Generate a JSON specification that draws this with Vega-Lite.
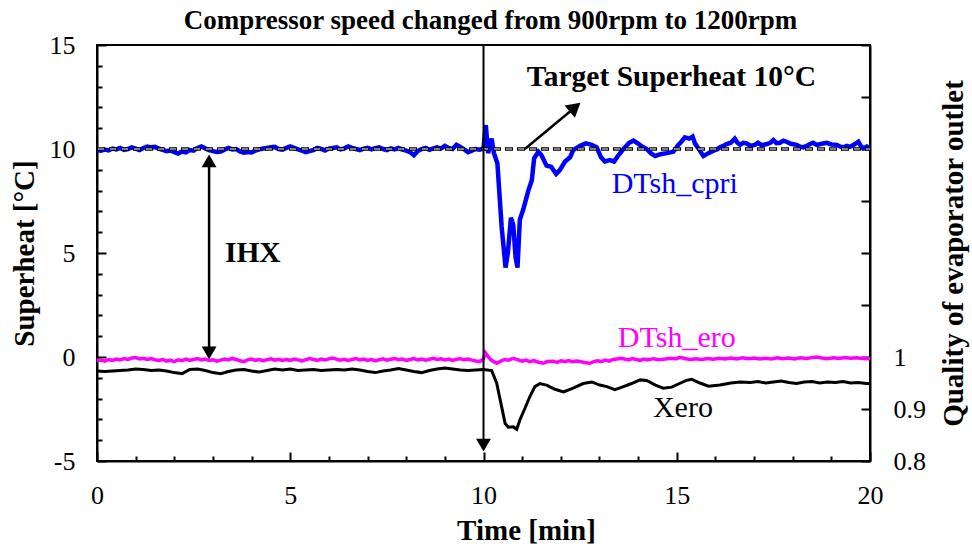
{
"$schema":"https://vega.github.io/schema/vega-lite/v6.json",
"width":773,"height":416,
"autosize":"none",
"padding":{"left":97,"top":45,"right":102,"bottom":86},
"title":{"text":"Compressor speed changed from 900rpm to 1200rpm","font":"Liberation Serif","fontSize":27,"fontWeight":"bold","color":"black","anchor":"middle","frame":"group","offset":-3,"dx":7},
"datasets":{
"cpri":[
{"t":0.0,"v":9.95},{"t":0.1,"v":9.92},{"t":0.2,"v":9.97},{"t":0.3,"v":9.93},{"t":0.4,"v":10.02},{"t":0.5,"v":9.98},{"t":0.6,"v":10.05},{"t":0.7,"v":9.96},{"t":0.8,"v":10.0},{"t":0.9,"v":10.08},
{"t":1.0,"v":10.02},{"t":1.1,"v":9.95},{"t":1.2,"v":10.05},{"t":1.3,"v":10.12},{"t":1.4,"v":10.08},{"t":1.5,"v":10.1},{"t":1.6,"v":10.02},{"t":1.7,"v":9.96},{"t":1.8,"v":9.9},{"t":1.9,"v":9.93},
{"t":2.0,"v":9.85},{"t":2.1,"v":9.78},{"t":2.2,"v":9.88},{"t":2.3,"v":9.84},{"t":2.4,"v":9.95},{"t":2.5,"v":9.92},{"t":2.6,"v":10.05},{"t":2.7,"v":10.12},{"t":2.8,"v":10.03},{"t":2.9,"v":9.95},
{"t":3.0,"v":9.9},{"t":3.1,"v":9.86},{"t":3.2,"v":9.88},{"t":3.3,"v":9.97},{"t":3.4,"v":10.05},{"t":3.5,"v":9.98},{"t":3.6,"v":10.0},{"t":3.7,"v":9.88},{"t":3.8,"v":9.82},{"t":3.9,"v":9.85},
{"t":4.0,"v":9.83},{"t":4.1,"v":9.93},{"t":4.2,"v":9.98},{"t":4.3,"v":10.02},{"t":4.4,"v":10.05},{"t":4.5,"v":10.08},{"t":4.6,"v":10.1},{"t":4.7,"v":10.0},{"t":4.8,"v":9.97},{"t":4.9,"v":10.05},
{"t":5.0,"v":10.12},{"t":5.1,"v":10.05},{"t":5.2,"v":9.98},{"t":5.3,"v":9.92},{"t":5.4,"v":9.85},{"t":5.5,"v":9.9},{"t":5.6,"v":9.95},{"t":5.7,"v":10.05},{"t":5.8,"v":10.0},{"t":5.9,"v":9.93},
{"t":6.0,"v":10.02},{"t":6.1,"v":10.05},{"t":6.2,"v":10.08},{"t":6.3,"v":9.98},{"t":6.4,"v":10.03},{"t":6.5,"v":10.12},{"t":6.6,"v":10.05},{"t":6.7,"v":10.0},{"t":6.8,"v":9.95},{"t":6.9,"v":10.02},
{"t":7.0,"v":10.06},{"t":7.1,"v":9.98},{"t":7.2,"v":10.04},{"t":7.3,"v":10.08},{"t":7.4,"v":10.0},{"t":7.5,"v":9.95},{"t":7.6,"v":10.03},{"t":7.7,"v":9.98},{"t":7.8,"v":10.05},{"t":7.9,"v":9.97},
{"t":8.0,"v":9.92},{"t":8.1,"v":9.85},{"t":8.2,"v":9.7},{"t":8.3,"v":9.9},{"t":8.4,"v":10.0},{"t":8.5,"v":10.05},{"t":8.6,"v":9.96},{"t":8.7,"v":10.03},{"t":8.8,"v":10.08},{"t":8.9,"v":10.02},
{"t":9.0,"v":10.15},{"t":9.1,"v":10.05},{"t":9.2,"v":10.0},{"t":9.3,"v":10.2},{"t":9.4,"v":10.1},{"t":9.5,"v":9.98},{"t":9.6,"v":9.85},{"t":9.7,"v":9.92},{"t":9.8,"v":10.0},{"t":9.9,"v":9.97},
{"t":10.0,"v":10.02},{"t":10.06,"v":11.15},{"t":10.12,"v":9.8},{"t":10.21,"v":10.5},{"t":10.27,"v":9.8},{"t":10.36,"v":9.3},{"t":10.47,"v":6.25},{"t":10.57,"v":4.3},{"t":10.63,"v":5.0},{"t":10.71,"v":6.7},
{"t":10.77,"v":6.35},{"t":10.83,"v":4.8},{"t":10.88,"v":4.3},{"t":10.94,"v":6.6},{"t":11.03,"v":7.1},{"t":11.16,"v":8.0},{"t":11.25,"v":8.5},{"t":11.31,"v":9.55},{"t":11.42,"v":9.87},{"t":11.5,"v":9.7},
{"t":11.63,"v":9.2},{"t":11.75,"v":9.15},{"t":11.88,"v":8.8},{"t":11.98,"v":9.0},{"t":12.11,"v":9.4},{"t":12.24,"v":9.6},{"t":12.32,"v":9.95},{"t":12.5,"v":10.15},{"t":12.65,"v":10.27},{"t":12.8,"v":10.2},
{"t":12.93,"v":10.08},{"t":13.04,"v":9.6},{"t":13.14,"v":9.4},{"t":13.27,"v":9.47},{"t":13.38,"v":9.4},{"t":13.49,"v":9.7},{"t":13.62,"v":10.0},{"t":13.77,"v":10.3},{"t":13.88,"v":10.4},{"t":13.99,"v":10.27},
{"t":14.09,"v":10.14},{"t":14.22,"v":10.0},{"t":14.33,"v":9.8},{"t":14.44,"v":9.66},{"t":14.52,"v":9.72},{"t":14.61,"v":9.76},{"t":14.74,"v":9.8},{"t":14.91,"v":9.87},{"t":15.04,"v":10.2},{"t":15.12,"v":10.35},
{"t":15.21,"v":10.56},{"t":15.32,"v":10.5},{"t":15.41,"v":10.6},{"t":15.47,"v":10.27},{"t":15.6,"v":9.92},{"t":15.69,"v":9.66},{"t":15.82,"v":9.8},{"t":15.95,"v":9.92},{"t":16.04,"v":9.98},{"t":16.12,"v":10.08},
{"t":16.21,"v":10.15},{"t":16.29,"v":10.24},{"t":16.4,"v":10.3},{"t":16.5,"v":10.5},{"t":16.57,"v":10.3},{"t":16.64,"v":10.2},{"t":16.72,"v":10.3},{"t":16.81,"v":10.27},{"t":16.9,"v":10.15},{"t":17.02,"v":10.2},
{"t":17.1,"v":10.3},{"t":17.2,"v":10.18},{"t":17.33,"v":10.24},{"t":17.42,"v":10.3},{"t":17.5,"v":10.43},{"t":17.58,"v":10.28},{"t":17.67,"v":10.3},{"t":17.76,"v":10.4},{"t":17.84,"v":10.35},{"t":17.95,"v":10.25},
{"t":18.1,"v":10.2},{"t":18.18,"v":10.12},{"t":18.27,"v":10.08},{"t":18.36,"v":10.15},{"t":18.45,"v":10.24},{"t":18.53,"v":10.3},{"t":18.62,"v":10.2},{"t":18.75,"v":10.25},{"t":18.88,"v":10.3},{"t":19.0,"v":10.22},
{"t":19.14,"v":10.2},{"t":19.22,"v":10.12},{"t":19.31,"v":10.08},{"t":19.4,"v":10.15},{"t":19.48,"v":10.1},{"t":19.58,"v":10.2},{"t":19.7,"v":10.35},{"t":19.76,"v":10.15},{"t":19.83,"v":10.03},{"t":19.92,"v":10.12},{"t":20.0,"v":10.05}
],
"ero":[
{"t":0.0,"v":-0.18},{"t":0.1,"v":-0.15},{"t":0.2,"v":-0.2},{"t":0.3,"v":-0.12},{"t":0.4,"v":-0.16},{"t":0.5,"v":-0.1},{"t":0.6,"v":-0.14},{"t":0.7,"v":-0.08},{"t":0.8,"v":-0.12},{"t":0.9,"v":-0.05},
{"t":1.0,"v":-0.03},{"t":1.1,"v":-0.09},{"t":1.2,"v":-0.06},{"t":1.3,"v":-0.12},{"t":1.4,"v":-0.08},{"t":1.5,"v":-0.13},{"t":1.6,"v":-0.17},{"t":1.7,"v":-0.12},{"t":1.8,"v":-0.2},{"t":1.9,"v":-0.15},
{"t":2.0,"v":-0.22},{"t":2.1,"v":-0.14},{"t":2.2,"v":-0.18},{"t":2.3,"v":-0.1},{"t":2.4,"v":-0.16},{"t":2.5,"v":-0.12},{"t":2.6,"v":-0.08},{"t":2.7,"v":-0.14},{"t":2.8,"v":-0.1},{"t":2.9,"v":-0.17},
{"t":3.0,"v":-0.13},{"t":3.1,"v":-0.2},{"t":3.2,"v":-0.15},{"t":3.3,"v":-0.1},{"t":3.4,"v":-0.14},{"t":3.5,"v":-0.07},{"t":3.6,"v":-0.12},{"t":3.7,"v":-0.18},{"t":3.8,"v":-0.22},{"t":3.9,"v":-0.14},
{"t":4.0,"v":-0.1},{"t":4.1,"v":-0.16},{"t":4.2,"v":-0.12},{"t":4.3,"v":-0.18},{"t":4.4,"v":-0.13},{"t":4.5,"v":-0.09},{"t":4.6,"v":-0.15},{"t":4.7,"v":-0.11},{"t":4.8,"v":-0.17},{"t":4.9,"v":-0.12},
{"t":5.0,"v":-0.16},{"t":5.1,"v":-0.1},{"t":5.2,"v":-0.14},{"t":5.3,"v":-0.19},{"t":5.4,"v":-0.13},{"t":5.5,"v":-0.08},{"t":5.6,"v":-0.12},{"t":5.7,"v":-0.16},{"t":5.8,"v":-0.1},{"t":5.9,"v":-0.14},
{"t":6.0,"v":-0.09},{"t":6.1,"v":-0.05},{"t":6.2,"v":-0.1},{"t":6.3,"v":-0.15},{"t":6.4,"v":-0.11},{"t":6.5,"v":-0.17},{"t":6.6,"v":-0.12},{"t":6.7,"v":-0.08},{"t":6.8,"v":-0.14},{"t":6.9,"v":-0.1},
{"t":7.0,"v":-0.16},{"t":7.1,"v":-0.12},{"t":7.2,"v":-0.18},{"t":7.3,"v":-0.13},{"t":7.4,"v":-0.09},{"t":7.5,"v":-0.15},{"t":7.6,"v":-0.11},{"t":7.7,"v":-0.07},{"t":7.8,"v":-0.13},{"t":7.9,"v":-0.1},
{"t":8.0,"v":-0.16},{"t":8.1,"v":-0.12},{"t":8.2,"v":-0.08},{"t":8.3,"v":-0.14},{"t":8.4,"v":-0.1},{"t":8.5,"v":-0.15},{"t":8.6,"v":-0.11},{"t":8.7,"v":-0.06},{"t":8.8,"v":-0.12},{"t":8.9,"v":-0.09},
{"t":9.0,"v":-0.14},{"t":9.1,"v":-0.1},{"t":9.2,"v":-0.16},{"t":9.3,"v":-0.11},{"t":9.4,"v":-0.08},{"t":9.5,"v":-0.13},{"t":9.6,"v":-0.1},{"t":9.7,"v":-0.15},{"t":9.8,"v":-0.19},{"t":9.9,"v":-0.22},
{"t":10.0,"v":-0.1},{"t":10.04,"v":0.22},{"t":10.12,"v":0.02},{"t":10.2,"v":-0.15},{"t":10.34,"v":-0.3},{"t":10.45,"v":-0.2},{"t":10.55,"v":-0.12},{"t":10.65,"v":-0.15},{"t":10.77,"v":-0.06},{"t":10.9,"v":-0.14},
{"t":11.0,"v":-0.2},{"t":11.1,"v":-0.15},{"t":11.2,"v":-0.22},{"t":11.3,"v":-0.17},{"t":11.42,"v":-0.25},{"t":11.55,"v":-0.3},{"t":11.65,"v":-0.22},{"t":11.8,"v":-0.2},{"t":11.9,"v":-0.26},{"t":12.0,"v":-0.18},
{"t":12.1,"v":-0.22},{"t":12.2,"v":-0.17},{"t":12.3,"v":-0.23},{"t":12.4,"v":-0.19},{"t":12.5,"v":-0.22},{"t":12.6,"v":-0.26},{"t":12.75,"v":-0.3},{"t":12.85,"v":-0.22},{"t":12.95,"v":-0.18},{"t":13.05,"v":-0.22},
{"t":13.15,"v":-0.15},{"t":13.25,"v":-0.2},{"t":13.35,"v":-0.12},{"t":13.45,"v":-0.1},{"t":13.53,"v":-0.06},{"t":13.65,"v":-0.1},{"t":13.75,"v":-0.14},{"t":13.85,"v":-0.08},{"t":13.95,"v":-0.12},{"t":14.05,"v":-0.16},
{"t":14.15,"v":-0.1},{"t":14.25,"v":-0.14},{"t":14.4,"v":-0.08},{"t":14.55,"v":-0.13},{"t":14.7,"v":-0.1},{"t":14.85,"v":-0.06},{"t":15.0,"v":-0.08},{"t":15.08,"v":-0.02},{"t":15.2,"v":-0.07},{"t":15.35,"v":-0.12},
{"t":15.5,"v":-0.08},{"t":15.65,"v":-0.12},{"t":15.8,"v":-0.07},{"t":15.94,"v":-0.11},{"t":16.1,"v":-0.06},{"t":16.25,"v":-0.1},{"t":16.4,"v":-0.05},{"t":16.55,"v":-0.09},{"t":16.7,"v":-0.04},{"t":16.85,"v":-0.08},
{"t":17.0,"v":-0.05},{"t":17.15,"v":-0.1},{"t":17.3,"v":-0.06},{"t":17.45,"v":-0.09},{"t":17.6,"v":-0.04},{"t":17.75,"v":-0.08},{"t":17.9,"v":-0.05},{"t":18.05,"v":-0.09},{"t":18.2,"v":-0.04},{"t":18.35,"v":-0.07},
{"t":18.5,"v":-0.03},{"t":18.62,"v":0.0},{"t":18.75,"v":-0.05},{"t":18.9,"v":-0.08},{"t":19.05,"v":-0.04},{"t":19.2,"v":-0.07},{"t":19.35,"v":-0.03},{"t":19.5,"v":-0.06},{"t":19.65,"v":-0.04},{"t":19.8,"v":-0.07},{"t":20.0,"v":-0.08}
],
"xero":[
{"t":0.0,"q":0.973},{"t":0.2,"q":0.972},{"t":0.4,"q":0.973},{"t":0.6,"q":0.974},{"t":0.8,"q":0.975},{"t":1.0,"q":0.977},{"t":1.2,"q":0.976},{"t":1.4,"q":0.974},{"t":1.6,"q":0.975},{"t":1.8,"q":0.973},
{"t":2.0,"q":0.970},{"t":2.2,"q":0.968},{"t":2.4,"q":0.976},{"t":2.6,"q":0.977},{"t":2.8,"q":0.974},{"t":3.0,"q":0.970},{"t":3.2,"q":0.968},{"t":3.4,"q":0.972},{"t":3.6,"q":0.975},{"t":3.8,"q":0.976},
{"t":4.0,"q":0.973},{"t":4.2,"q":0.971},{"t":4.4,"q":0.974},{"t":4.6,"q":0.977},{"t":4.8,"q":0.975},{"t":5.0,"q":0.977},{"t":5.2,"q":0.974},{"t":5.4,"q":0.975},{"t":5.6,"q":0.976},{"t":5.8,"q":0.974},
{"t":6.0,"q":0.975},{"t":6.2,"q":0.976},{"t":6.4,"q":0.975},{"t":6.6,"q":0.977},{"t":6.8,"q":0.975},{"t":7.0,"q":0.972},{"t":7.2,"q":0.970},{"t":7.4,"q":0.973},{"t":7.6,"q":0.975},{"t":7.8,"q":0.978},
{"t":8.0,"q":0.975},{"t":8.2,"q":0.972},{"t":8.4,"q":0.970},{"t":8.6,"q":0.974},{"t":8.8,"q":0.977},{"t":9.0,"q":0.979},{"t":9.2,"q":0.977},{"t":9.4,"q":0.975},{"t":9.6,"q":0.974},{"t":9.8,"q":0.975},
{"t":10.0,"q":0.976},{"t":10.21,"q":0.974},{"t":10.34,"q":0.95},{"t":10.47,"q":0.904},{"t":10.56,"q":0.872},{"t":10.64,"q":0.865},{"t":10.77,"q":0.866},{"t":10.86,"q":0.861},{"t":10.94,"q":0.879},{"t":11.07,"q":0.901},
{"t":11.2,"q":0.924},{"t":11.33,"q":0.943},{"t":11.46,"q":0.949},{"t":11.63,"q":0.946},{"t":11.85,"q":0.938},{"t":12.07,"q":0.933},{"t":12.32,"q":0.94},{"t":12.58,"q":0.949},{"t":12.8,"q":0.952},{"t":13.01,"q":0.946},
{"t":13.19,"q":0.943},{"t":13.4,"q":0.937},{"t":13.62,"q":0.943},{"t":13.83,"q":0.949},{"t":14.05,"q":0.956},{"t":14.22,"q":0.955},{"t":14.45,"q":0.946},{"t":14.65,"q":0.94},{"t":14.87,"q":0.942},{"t":15.1,"q":0.95},
{"t":15.25,"q":0.955},{"t":15.39,"q":0.957},{"t":15.6,"q":0.95},{"t":15.82,"q":0.944},{"t":16.12,"q":0.946},{"t":16.4,"q":0.95},{"t":16.64,"q":0.952},{"t":16.9,"q":0.951},{"t":17.1,"q":0.953},{"t":17.3,"q":0.95},
{"t":17.5,"q":0.952},{"t":17.7,"q":0.954},{"t":17.9,"q":0.951},{"t":18.1,"q":0.949},{"t":18.3,"q":0.952},{"t":18.5,"q":0.953},{"t":18.7,"q":0.95},{"t":18.9,"q":0.952},{"t":19.1,"q":0.951},{"t":19.3,"q":0.953},
{"t":19.5,"q":0.95},{"t":19.7,"q":0.951},{"t":19.9,"q":0.949},{"t":20.0,"q":0.949}
],
"target":[{"t":0,"t2":20,"v":10}],
"vline":[{"t":10,"v":15,"v2":-4.24}],
"ihx":[{"t":2.9,"v":9.43,"v2":0.2}],
"diag":[{"t":11.07,"v":10,"t2":12.37,"v2":12.01}],
"headDown":[{"t":10,"v":-4.24},{"t":2.9,"v":0.2}],
"headUp":[{"t":2.9,"v":9.43}],
"headDiag":[{"t":12.37,"v":12.01}],
"boldNotes":[{"t":11.12,"v":13.03,"label":"Target Superheat 10°C"},{"t":3.31,"v":4.57,"label":"IHX"}],
"cpriNote":[{"t":14.95,"v":7.87,"label":"DTsh_cpri"}],
"eroNote":[{"t":15.0,"v":0.48,"label":"DTsh_ero"}],
"xeroNote":[{"t":15.16,"v":-2.87,"label":"Xero"}]
},
"encoding":{
"x":{"field":"t","type":"quantitative","scale":{"domain":[0,20],"nice":false,"zero":false},
"axis":{"title":"Time [min]","values":[0,1,2,3,4,5,6,7,8,9,10,11,12,13,14,15,16,17,18,19,20],
"labelExpr":"datum.value % 5 === 0 ? '' + datum.value : ''",
"tickSize":{"condition":{"test":"datum.value % 5 === 0","value":-9},"value":-5},
"labelFlush":false,"labelPadding":30,"titlePadding":8,"titleX":429,"titleAlign":"center","grid":false}}
},
"layer":[
{
"encoding":{
"y":{"field":"v","type":"quantitative","scale":{"domain":[-5,15],"nice":false,"zero":false},
"axis":{"orient":"left","title":"Superheat [°C]","values":[-5,-4,-3,-2,-1,0,1,2,3,4,5,6,7,8,9,10,11,12,13,14,15],
"labelExpr":"datum.value % 5 === 0 ? '' + datum.value : ''",
"tickSize":{"condition":{"test":"datum.value % 5 === 0","value":-9},"value":-5},
"labelFlush":false,"labelPadding":31,"titlePadding":10,"grid":false}}
},
"layer":[
{"data":{"name":"cpri"},"mark":{"type":"line","color":"#0000ff","strokeWidth":4.5}},
{"data":{"name":"ero"},"mark":{"type":"line","color":"#ff00ff","strokeWidth":3.5}},
{"data":{"name":"target"},"mark":{"type":"rule","color":"black","strokeWidth":3.5,"strokeDash":[8,4]},"encoding":{"x2":{"field":"t2"}}},
{"data":{"name":"target"},"mark":{"type":"rule","color":"white","strokeWidth":1.2,"strokeDash":[6,6],"strokeDashOffset":-1},"encoding":{"x2":{"field":"t2"}}},
{"data":{"name":"vline"},"mark":{"type":"rule","color":"black","strokeWidth":2},"encoding":{"y2":{"field":"v2"}}},
{"data":{"name":"ihx"},"mark":{"type":"rule","color":"black","strokeWidth":2.5},"encoding":{"y2":{"field":"v2"}}},
{"data":{"name":"diag"},"mark":{"type":"rule","color":"black","strokeWidth":2.5},"encoding":{"x2":{"field":"t2"},"y2":{"field":"v2"}}},
{"data":{"name":"headDown"},"mark":{"type":"point","shape":"triangle-down","filled":true,"color":"black","size":220,"opacity":1}},
{"data":{"name":"headUp"},"mark":{"type":"point","shape":"triangle-up","filled":true,"color":"black","size":220,"opacity":1}},
{"data":{"name":"headDiag"},"mark":{"type":"point","shape":"triangle-up","filled":true,"color":"black","size":260,"angle":50,"opacity":1}},
{"data":{"name":"boldNotes"},"mark":{"type":"text","align":"left","baseline":"alphabetic","font":"Liberation Serif","fontSize":29.5,"fontWeight":"bold","color":"black"},"encoding":{"text":{"field":"label"}}},
{"data":{"name":"cpriNote"},"mark":{"type":"text","align":"center","baseline":"alphabetic","font":"Liberation Serif","fontSize":30,"color":"#0000ff"},"encoding":{"text":{"field":"label"}}},
{"data":{"name":"eroNote"},"mark":{"type":"text","align":"center","baseline":"alphabetic","font":"Liberation Serif","fontSize":30,"color":"#ff00ff"},"encoding":{"text":{"field":"label"}}},
{"data":{"name":"xeroNote"},"mark":{"type":"text","align":"center","baseline":"alphabetic","font":"Liberation Serif","fontSize":30,"color":"black"},"encoding":{"text":{"field":"label"}}}
]
},
{
"data":{"name":"xero"},
"mark":{"type":"line","color":"black","strokeWidth":3},
"encoding":{
"y":{"field":"q","type":"quantitative","scale":{"domain":[0.8,1.6],"nice":false,"zero":false},
"axis":{"orient":"right","title":"Quality of evaporator outlet","titleAngle":270,"titleBaseline":"top","values":[0.8,0.9,1.0,1.1,1.2,1.3,1.4,1.5,1.6],
"labelExpr":"datum.value < 1.05 ? format(datum.value, '~g') : ''",
"labelFlush":false,"tickSize":-9,"labelPadding":32,"titlePadding":14,"grid":false}}
}
}
],
"resolve":{"scale":{"y":"independent"}},
"config":{
"view":{"stroke":"black","strokeWidth":2},
"axis":{"domainColor":"black","domainWidth":2,"tickColor":"black","tickWidth":2,
"labelFont":"Liberation Serif","labelFontSize":26,"labelColor":"black",
"titleFont":"Liberation Serif","titleFontSize":29,"titleFontWeight":"bold","titleColor":"black"}
}
}
